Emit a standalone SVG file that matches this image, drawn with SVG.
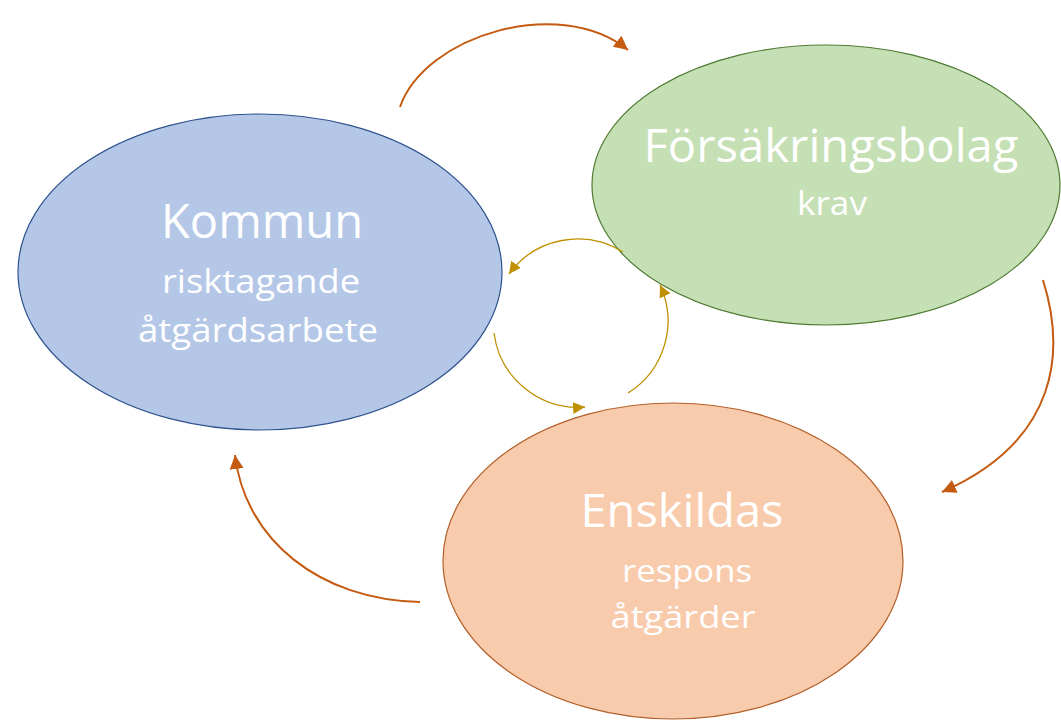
<svg xmlns="http://www.w3.org/2000/svg" width="1061" height="720" viewBox="0 0 1061 720">
<defs>
<style>
.node-blue{fill:#B4C7E7;stroke:#2F528F;stroke-width:1.2}
.node-green{fill:#C5E0B4;stroke:#4E7A32;stroke-width:1.2}
.node-orange{fill:#F8CBAD;stroke:#B4602A;stroke-width:1.2}
.t{font-family:"Open Sans","Noto Sans","Liberation Sans",sans-serif;fill:#FFFFFF;text-anchor:middle}
.big{stroke:#C55A11;stroke-width:2;fill:none}
.small{stroke:#BF9000;stroke-width:1.3;fill:none}
</style>
<marker id="ah-big" viewBox="0 0 10 10" refX="10" refY="5" markerWidth="14" markerHeight="14" markerUnits="userSpaceOnUse" orient="auto">
<path d="M0,0 L10,5 L0,10 Z" fill="#C55A11"/>
</marker>
<marker id="ah-small" viewBox="0 0 10 10" refX="10" refY="5" markerWidth="12" markerHeight="12" markerUnits="userSpaceOnUse" orient="auto">
<path d="M0,0 L10,5 L0,10 Z" fill="#BF9000"/>
</marker>
</defs>
<rect width="1061" height="720" fill="#FFFFFF"/>
<g id="node-kommun">
<ellipse class="node-blue" cx="260" cy="272" rx="242" ry="158"/>
<text class="t" x="262" y="238" font-size="48" textLength="202" lengthAdjust="spacingAndGlyphs">Kommun</text>
<text class="t" x="261" y="293" font-size="32" textLength="198" lengthAdjust="spacingAndGlyphs">risktagande</text>
<text class="t" x="258" y="342" font-size="32" textLength="240" lengthAdjust="spacingAndGlyphs">åtgärdsarbete</text>
</g>
<g id="node-forsakringsbolag">
<ellipse class="node-green" cx="826" cy="185" rx="234" ry="140"/>
<text class="t" x="831" y="162" font-size="45" textLength="375" lengthAdjust="spacingAndGlyphs">Försäkringsbolag</text>
<text class="t" x="832" y="215" font-size="33" textLength="70" lengthAdjust="spacingAndGlyphs">krav</text>
</g>
<g id="node-enskildas">
<ellipse class="node-orange" cx="673" cy="561" rx="230" ry="158"/>
<text class="t" x="682" y="527" font-size="46" textLength="203" lengthAdjust="spacingAndGlyphs">Enskildas</text>
<text class="t" x="687" y="582" font-size="31" textLength="130" lengthAdjust="spacingAndGlyphs">respons</text>
<text class="t" x="683" y="628" font-size="31" textLength="145" lengthAdjust="spacingAndGlyphs">åtgärder</text>
</g>
<g id="connectors">
<path class="big" d="M400,107 C425,35 560,-5 628,50" marker-end="url(#ah-big)"/>
<path class="big" d="M1043,280 C1065,350 1060,440 942,492" marker-end="url(#ah-big)"/>
<path class="big" d="M420,602 C320,600 245,540 235,455" marker-end="url(#ah-big)"/>
<path class="small" d="M623,252 A85,85 0 0 0 509,274" marker-end="url(#ah-small)"/>
<path class="small" d="M494,333 A85,85 0 0 0 585,407" marker-end="url(#ah-small)"/>
<path class="small" d="M628,393 A85,85 0 0 0 660,285" marker-end="url(#ah-small)"/>
</g>
</svg>
